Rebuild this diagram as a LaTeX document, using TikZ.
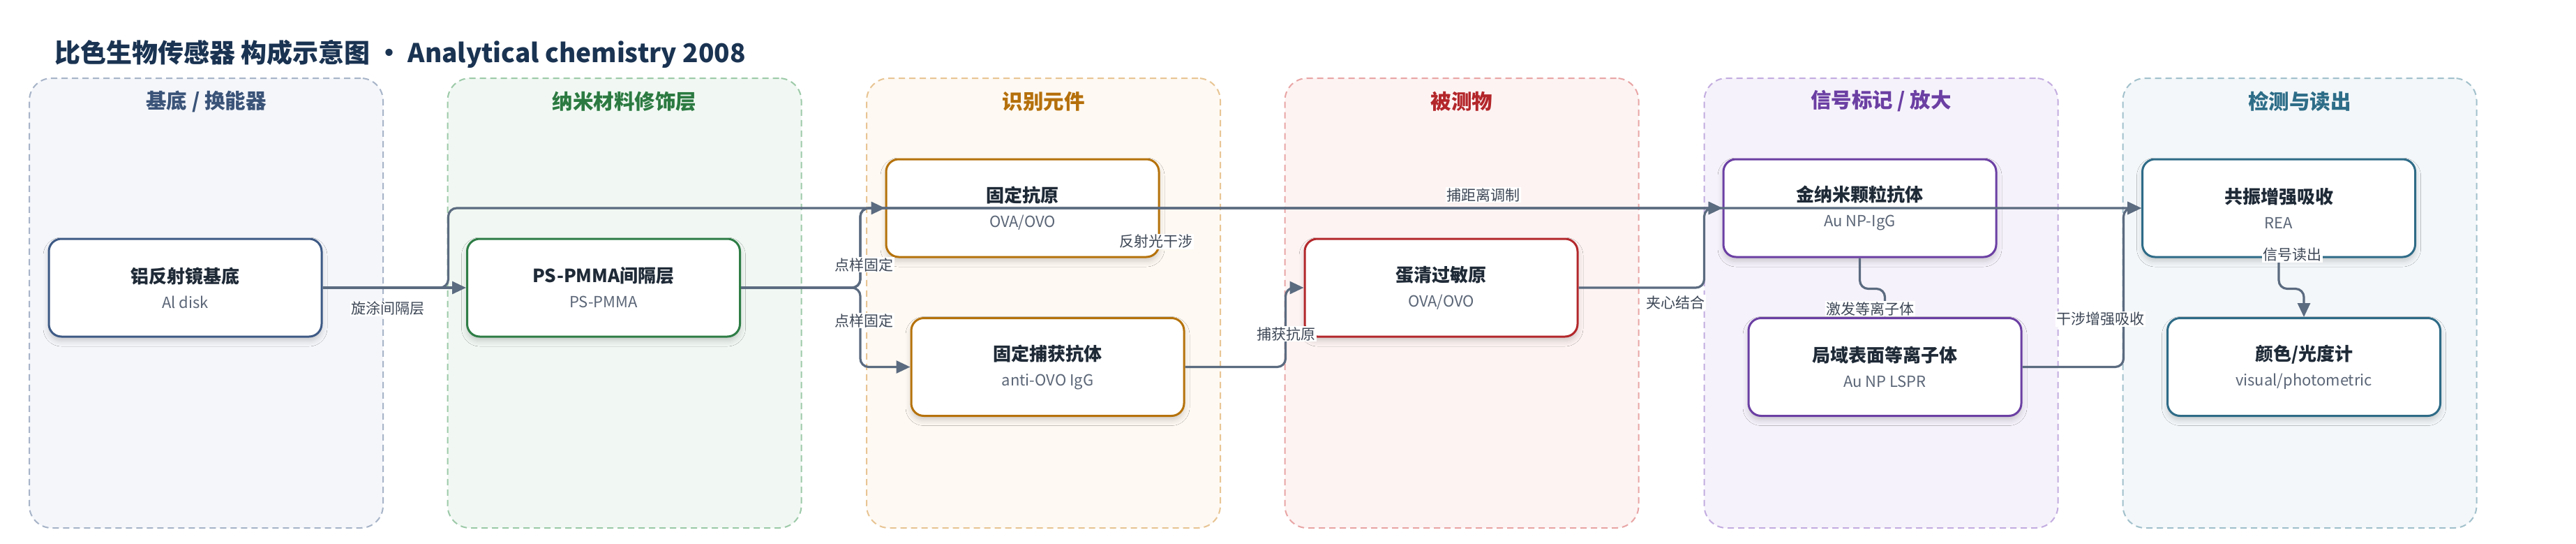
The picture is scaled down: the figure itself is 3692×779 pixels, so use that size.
\documentclass[tikz,border=0pt]{standalone}
\usepackage{fontspec}
\setmainfont{Noto Sans CJK SC}
\usetikzlibrary{arrows.meta,shadows.blur}
\definecolor{titlec}{HTML}{1A3352}
\definecolor{edgec}{HTML}{5B6B80}
\definecolor{lblc}{HTML}{3D4756}
\definecolor{mainc}{HTML}{1F2A37}
\definecolor{subc}{HTML}{5B6677}
\definecolor{fA}{HTML}{F4F6FA}\definecolor{dA}{HTML}{A7B4C8}\definecolor{tA}{HTML}{3A5378}\definecolor{nA}{HTML}{3E5A85}
\definecolor{fB}{HTML}{F1F8F3}\definecolor{dB}{HTML}{9DCAA9}\definecolor{tB}{HTML}{2B7A41}\definecolor{nB}{HTML}{2E7D46}
\definecolor{fC}{HTML}{FEF9F2}\definecolor{dC}{HTML}{E8C594}\definecolor{tC}{HTML}{B5700B}\definecolor{nC}{HTML}{B5720B}
\definecolor{fD}{HTML}{FDF3F3}\definecolor{dD}{HTML}{E9A5A5}\definecolor{tD}{HTML}{B3262A}\definecolor{nD}{HTML}{B3282C}
\definecolor{fE}{HTML}{F6F2FB}\definecolor{dE}{HTML}{C3ADE0}\definecolor{tE}{HTML}{6B3FA3}\definecolor{nE}{HTML}{6B3FA3}
\definecolor{fF}{HTML}{F3F7F9}\definecolor{dF}{HTML}{A2C1CC}\definecolor{tF}{HTML}{2D6D88}\definecolor{nF}{HTML}{2E6B87}
\newcommand{\boxtext}[2]{{\bfseries\fontsize{26}{36}\selectfont\color{mainc}#1}\\{\fontsize{22}{36}\selectfont\color{subc}#2}}
\begin{document}
\begin{tikzpicture}[x=1pt,y=-1pt,
  cont/.style 2 args={fill=#1, draw=#2, line width=2pt, dash pattern=on 9pt off 6pt, rounded corners=32pt, minimum width=507pt, minimum height=644pt, inner sep=0pt},
  ctitle/.style={text=#1, font=\bfseries\fontsize{29.5}{34}\selectfont, inner sep=0pt},
  stepbox/.style={draw=#1, fill=white, line width=3pt, rounded corners=18pt, minimum width=391pt, minimum height=140pt, align=center, inner sep=0pt,
    font=\fontsize{22}{36}\selectfont,
    blur shadow={shadow xshift=0pt, shadow yshift=-6pt, shadow opacity=18, shadow blur radius=8pt}},
  conn/.style={draw=edgec, line width=3.2pt, rounded corners=12pt, -{Triangle[length=20pt,width=18pt]}},
  lbl/.style={fill=white, text=lblc, font=\fontsize{21}{24}\selectfont, inner sep=1.5pt}
]
\useasboundingbox[fill=white] (0,0) rectangle (3692,779);
% title
\node[anchor=west, text=titlec, font=\bfseries\fontsize{37}{44}\selectfont, inner sep=0pt] (title) at (78,77) {比色生物传感器 构成示意图 · Analytical chemistry 2008};
% containers
\node[cont={fA}{dA}] (c1) at (295.5,434) {};
\node[cont={fB}{dB}] (c2) at (895,434) {};
\node[cont={fC}{dC}] (c3) at (1495.5,434) {};
\node[cont={fD}{dD}] (c4) at (2095,434) {};
\node[cont={fE}{dE}] (c5) at (2696,434) {};
\node[cont={fF}{dF}] (c6) at (3296,434) {};
\node[ctitle=tA] (t1) at (295.5,145) {基底 / 换能器};
\node[ctitle=tB] (t2) at (895,145) {纳米材料修饰层};
\node[ctitle=tC] (t3) at (1495.5,145) {识别元件};
\node[ctitle=tD] (t4) at (2095,145) {被测物};
\node[ctitle=tE] (t5) at (2696,145) {信号标记 / 放大};
\node[ctitle=tF] (t6) at (3296,145) {检测与读出};
% nodes
\node[stepbox=nA] (al) at (265.5,412) {\boxtext{铝反射镜基底}{Al disk}};
\node[stepbox=nB] (ps) at (865,412) {\boxtext{PS-PMMA间隔层}{PS-PMMA}};
\node[stepbox=nC] (gk) at (1465.5,298) {\boxtext{固定抗原}{OVA/OVO}};
\node[stepbox=nC] (gb) at (1501.5,525.5) {\boxtext{固定捕获抗体}{anti-OVO IgG}};
\node[stepbox=nD] (dq) at (2065.5,412) {\boxtext{蛋清过敏原}{OVA/OVO}};
\node[stepbox=nE] (jn) at (2665.5,298) {\boxtext{金纳米颗粒抗体}{Au NP-IgG}};
\node[stepbox=nE] (jy) at (2701.5,525.5) {\boxtext{局域表面等离子体}{Au NP LSPR}};
\node[stepbox=nF] (gz) at (3266,298) {\boxtext{共振增强吸收}{REA}};
\node[stepbox=nF] (ys) at (3302,525.5) {\boxtext{颜色/光度计}{visual/photometric}};
% connectors
\draw[conn] (al.east) -- (ps.west);
\draw[conn] (al.east) -- ++(180,0) |- (gz.west);
\draw[conn] (ps.east) -- ++(171,0) |- (jn.west);
\draw[conn] (ps.east) -- ++(171,0) |- (gk.west);
\draw[conn] (ps.east) -- ++(171,0) |- (gb.west);
\draw[conn] (gb.east) -- ++(144,0) |- (dq.west);
\draw[conn] (dq.east) -- ++(180,0) |- (jn.west);
\draw[conn] (jn.south) -- ++(0,44) -| (jy.north);
\draw[conn] (jy.east) -- ++(145,0) |- (gz.west);
\draw[conn] (gz.south) -- ++(0,44) -| (ys.north);
% labels
\node[lbl] (l1) at (556,442) {旋涂间隔层};
\node[lbl] (l2) at (1657,346) {反射光干涉};
\node[lbl] (l3) at (2126,279) {捕距离调制};
\node[lbl] (l4) at (1238,379) {点样固定};
\node[lbl] (l5) at (1238,459) {点样固定};
\node[lbl] (l6) at (1843,478) {捕获抗原};
\node[lbl] (l7) at (2401,433) {夹心结合};
\node[lbl] (l8) at (2680,442) {激发等离子体};
\node[lbl] (l9) at (3010,457) {干涉增强吸收};
\node[lbl] (l10) at (3285,365) {信号读出};
\end{tikzpicture}
\end{document}
